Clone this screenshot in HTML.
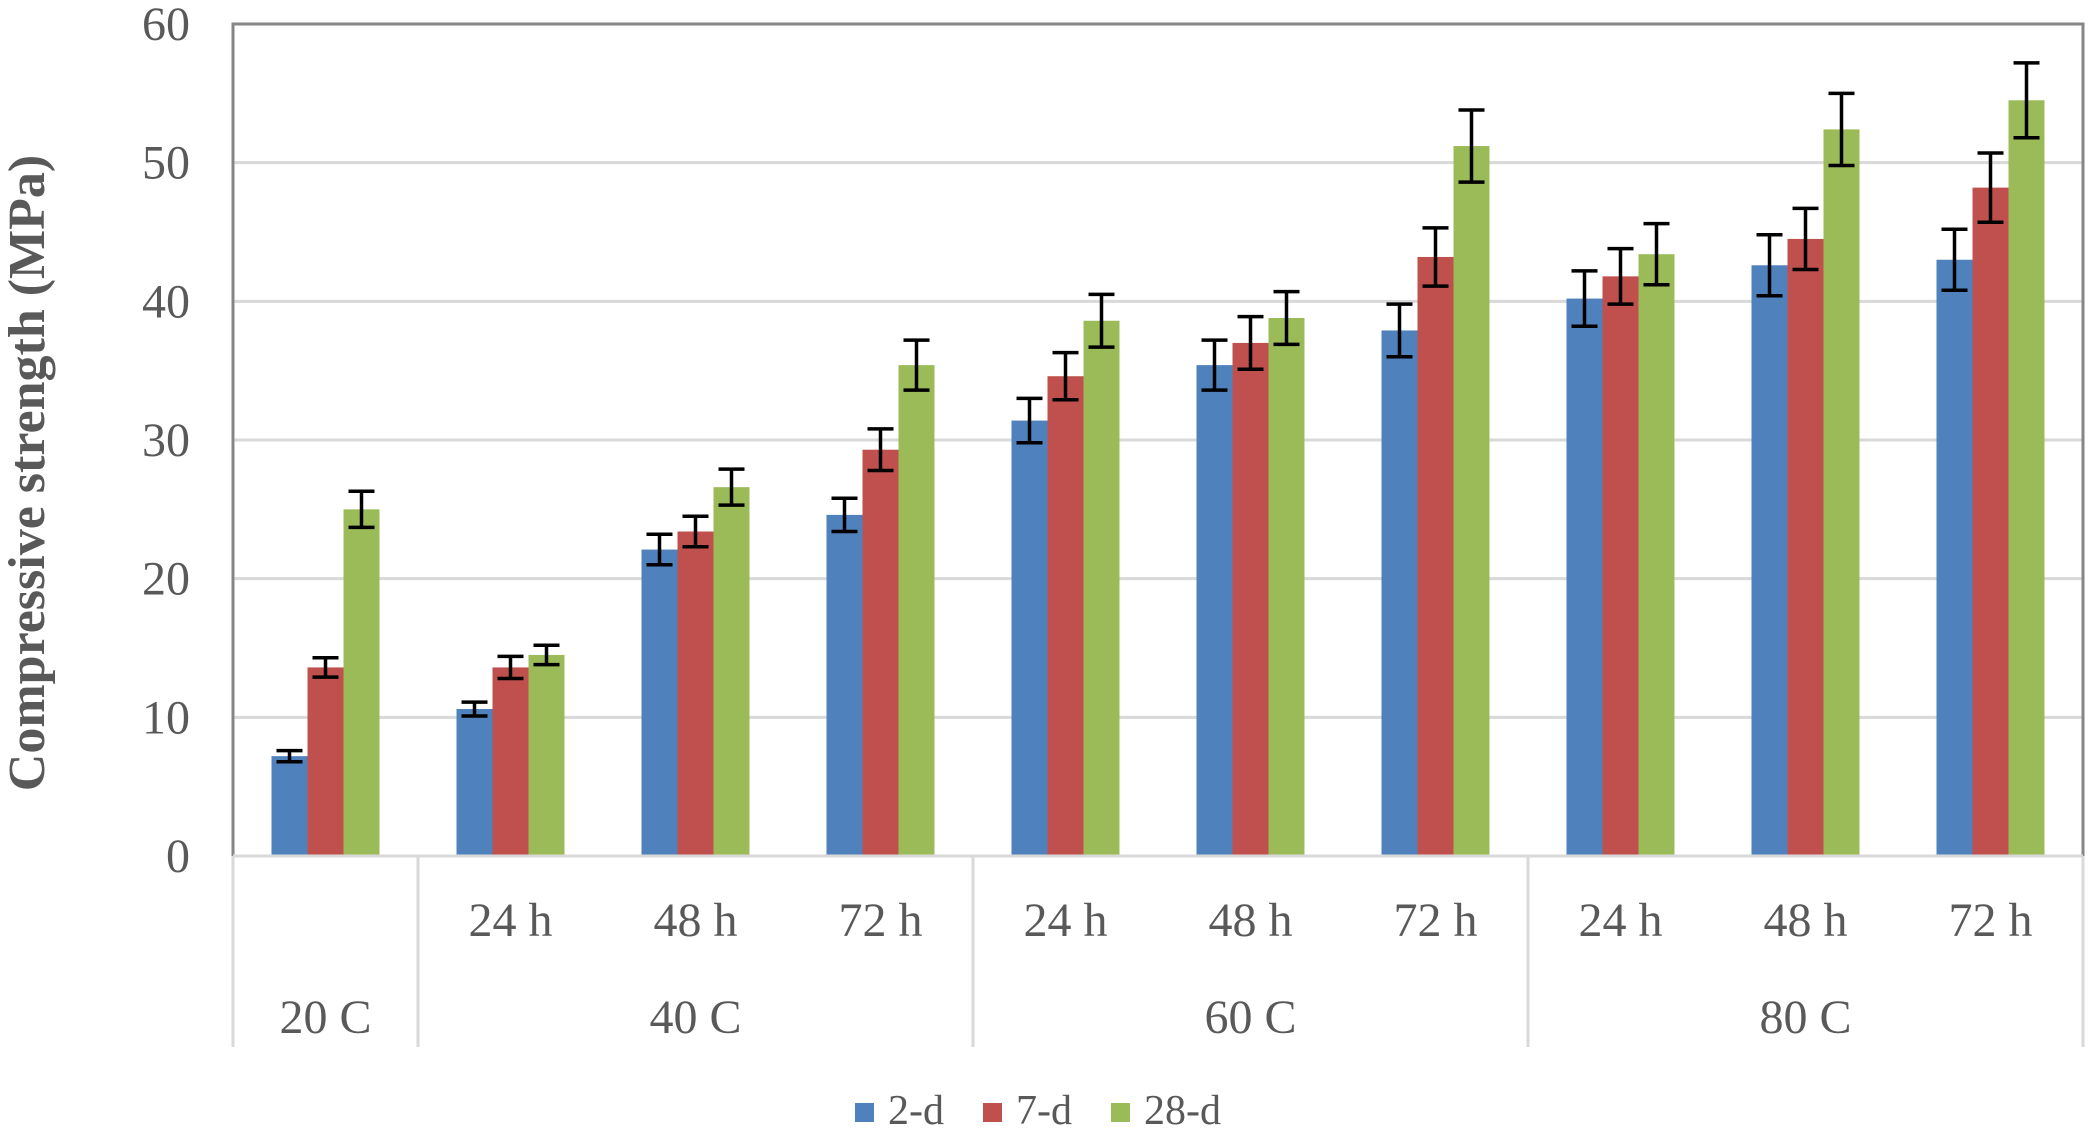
<!DOCTYPE html>
<html><head><meta charset="utf-8"><style>
html,body{margin:0;padding:0;background:#fff;}
svg{display:block;font-family:"Liberation Serif",serif;}
</style></head><body>
<svg id="chart" width="2091" height="1136" viewBox="0 0 2091 1136" xmlns="http://www.w3.org/2000/svg">
<g id="grid"></g>
<g id="bars"></g>
<g id="axes"></g>
<text transform="translate(44,473) rotate(-90)" text-anchor="middle" font-size="52" font-weight="bold" fill="#595959">Compressive strength (MPa)</text>
<g>
<g><rect x="855" y="1103" width="19" height="19" fill="#4f81bd"/><text x="888" y="1124" font-size="42" fill="#595959">2-d</text></g>
<g><rect x="983" y="1103" width="19" height="19" fill="#c0504d"/><text x="1016" y="1124" font-size="42" fill="#595959">7-d</text></g>
<g><rect x="1111" y="1103" width="19" height="19" fill="#9bbb59"/><text x="1144" y="1124" font-size="42" fill="#595959">28-d</text></g>
</g>
</svg>
<script>
const hourLabels = ["", "24 h", "48 h", "72 h", "24 h", "48 h", "72 h", "24 h", "48 h", "72 h"];
const tempLabels = ["20 C", "40 C", "60 C", "80 C"];
const tempSpans = [1, 3, 3, 3];
const seriesNames = ["2-d", "7-d", "28-d"];
const values2d = [7.2, 10.6, 22.1, 24.6, 31.4, 35.4, 37.9, 40.2, 42.6, 43.0];
const values7d = [13.6, 13.6, 23.4, 29.3, 34.6, 37.0, 43.2, 41.8, 44.5, 48.2];
const values28d = [25.0, 14.5, 26.6, 35.4, 38.6, 38.8, 51.2, 43.4, 52.4, 54.5];
const err2d = [0.4, 0.5, 1.1, 1.2, 1.6, 1.8, 1.9, 2.0, 2.2, 2.2];
const err7d = [0.7, 0.8, 1.1, 1.5, 1.7, 1.9, 2.1, 2.0, 2.2, 2.5];
const err28d = [1.3, 0.7, 1.3, 1.8, 1.9, 1.9, 2.6, 2.2, 2.6, 2.7];
const yTicks = [0, 10, 20, 30, 40, 50, 60];

const NS = "http://www.w3.org/2000/svg";
const L = 233, R = 2083, T = 24, B = 856, yMax = 60;
const catW = (R - L) / values2d.length, barW = 36;
const y = v => B - (v / yMax) * (B - T);
const x = i => L + catW * i;
const colors = ["#4f81bd", "#c0504d", "#9bbb59"];
const series = [values2d, values7d, values28d];
const errs = [err2d, err7d, err28d];
function mk(tag, attrs, parent) {
  const e = document.createElementNS(NS, tag);
  for (const k in attrs) e.setAttribute(k, attrs[k]);
  parent.appendChild(e); return e;
}
const grid = document.getElementById("grid"), bars = document.getElementById("bars"), axes = document.getElementById("axes");
yTicks.forEach(t => {
  if (t > 0 && t < yMax) {
    const g = mk("line", {x1: L, x2: R, y1: y(t), y2: y(t), stroke: "#d9d9d9", "stroke-width": 3}, grid);
    
    
  }
  const lab = mk("text", {x: 190, y: y(t) + 16, "text-anchor": "end", "font-size": 48, fill: "#595959"}, axes);
  lab.textContent = t;
  
  
});
series.forEach((vals, s) => {
  vals.forEach((v, i) => {
    const cx = x(i) + catW / 2 + (s - 1) * barW;
    const r = mk("rect", {x: cx - barW / 2, y: y(v), width: barW, height: B - y(v), fill: colors[s]}, bars);
    
    
    const e = errs[s][i];
    const eg = mk("g", {stroke: "#000", "stroke-width": 3.5}, bars);
    
    
    mk("line", {x1: cx, x2: cx, y1: y(v + e), y2: y(v - e)}, eg);
    mk("line", {x1: cx - 13, x2: cx + 13, y1: y(v + e), y2: y(v + e)}, eg);
    mk("line", {x1: cx - 13, x2: cx + 13, y1: y(v - e), y2: y(v - e)}, eg);
  });
});
mk("polyline", {points: `${L},${B} ${L},${T} ${R},${T} ${R},${B}`, fill: "none", stroke: "#868686", "stroke-width": 3}, axes);
mk("line", {x1: L, x2: R, y1: B, y2: B, stroke: "#d9d9d9", "stroke-width": 3}, axes);
hourLabels.forEach((h, i) => {
  if (!h) return;
  const t = mk("text", {x: x(i) + catW / 2, y: 936, "text-anchor": "middle", "font-size": 48, fill: "#595959"}, axes);
  t.textContent = h;
  
  
});
let start = 0;
mk("line", {x1: L, x2: L, y1: B, y2: 1047, stroke: "#d9d9d9", "stroke-width": 3}, axes);
tempLabels.forEach((lab, g) => {
  const end = start + tempSpans[g];
  const t = mk("text", {x: (x(start) + x(end)) / 2, y: 1033, "text-anchor": "middle", "font-size": 48, fill: "#595959"}, axes);
  t.textContent = lab;
  
  
  mk("line", {x1: x(end), x2: x(end), y1: B, y2: 1047, stroke: "#d9d9d9", "stroke-width": 3}, axes);
  start = end;
});
</script>
</body></html>
